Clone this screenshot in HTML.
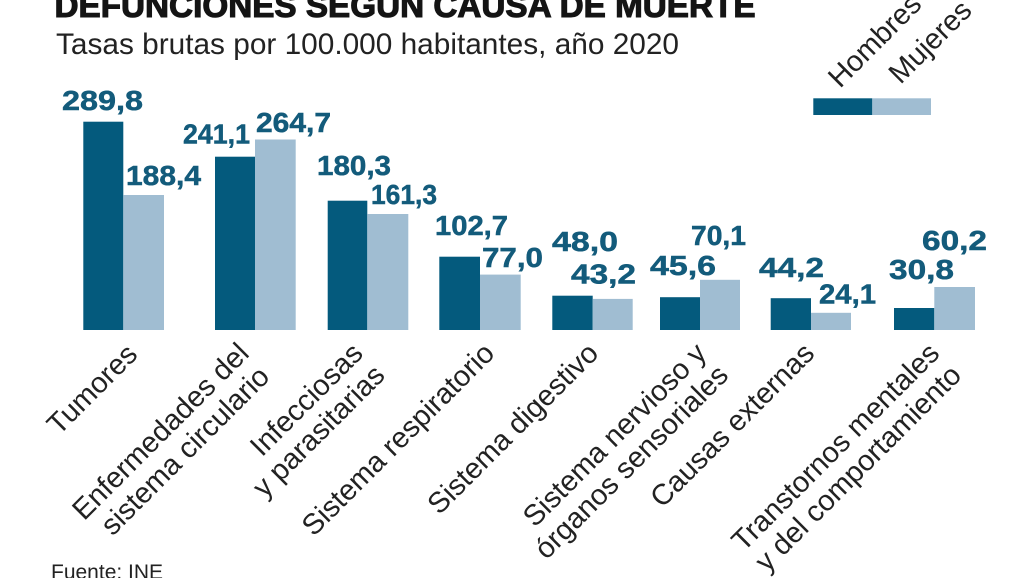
<!DOCTYPE html>
<html>
<head>
<meta charset="utf-8">
<style>
  html, body { margin:0; padding:0; background:#fff; }
  body { width:1028px; height:578px; overflow:hidden; }
  svg { display:block; }
  text { font-family: "Liberation Sans", Arial, sans-serif; }
  .val { font-weight:bold; font-size:27.5px; fill:#135b7b; stroke:#135b7b; stroke-width:0.5; }
  .ax { font-size:29px; fill:#222; }
</style>
</head>
<body>
<svg width="1028" height="578" viewBox="0 0 1028 578" xmlns="http://www.w3.org/2000/svg">
  <rect x="0" y="0" width="1028" height="578" fill="#ffffff"/>

  <!-- Title -->
  <text x="54.5" y="17" font-size="33" font-weight="bold" fill="#141414" stroke="#141414" stroke-width="1.1" textLength="701" lengthAdjust="spacingAndGlyphs">DEFUNCIONES SEGÚN CAUSA DE MUERTE</text>
  <!-- Subtitle -->
  <text x="56" y="54" font-size="29.5" fill="#222" textLength="623" lengthAdjust="spacingAndGlyphs">Tasas brutas por 100.000 habitantes, año 2020</text>

  <!-- Legend -->
  <rect x="813.3" y="98.3" width="59" height="16.7" fill="#045a7d"/>
  <rect x="872.3" y="98.3" width="58.7" height="16.7" fill="#a0bdd2"/>
  <text class="ax" transform="translate(840,89) rotate(-45)">Hombres</text>
  <text class="ax" transform="translate(900.5,85) rotate(-45)">Mujeres</text>

  <!-- Bars: dark = Hombres, light = Mujeres -->
  <g fill="#045a7d">
    <rect x="83.3" y="121.7" width="40" height="208.3"/>
    <rect x="215" y="156.7" width="40" height="173.3"/>
    <rect x="327.7" y="200.7" width="39.6" height="129.3"/>
    <rect x="439.3" y="256.7" width="40.7" height="73.3"/>
    <rect x="552.3" y="295.7" width="40.4" height="34.3"/>
    <rect x="660" y="297.2" width="40" height="32.8"/>
    <rect x="770.7" y="298.2" width="40.3" height="31.8"/>
    <rect x="894" y="308" width="40.3" height="22"/>
  </g>
  <g fill="#a0bdd2">
    <rect x="123.3" y="195" width="40.7" height="135"/>
    <rect x="255" y="139.5" width="40.7" height="190.5"/>
    <rect x="367.3" y="214" width="41" height="116"/>
    <rect x="480" y="274.6" width="40.7" height="55.4"/>
    <rect x="592.7" y="298.9" width="40" height="31.1"/>
    <rect x="700" y="279.8" width="40" height="50.2"/>
    <rect x="811" y="312.8" width="40" height="17.2"/>
    <rect x="934.3" y="287" width="40.7" height="43"/>
  </g>

  <!-- Value labels -->
  <text class="val" x="62" y="110" textLength="81" lengthAdjust="spacingAndGlyphs">289,8</text>
  <text class="val" x="126" y="185" textLength="75" lengthAdjust="spacingAndGlyphs">188,4</text>
  <text class="val" x="183" y="143.5" textLength="67" lengthAdjust="spacingAndGlyphs">241,1</text>
  <text class="val" x="256" y="132" textLength="75" lengthAdjust="spacingAndGlyphs">264,7</text>
  <text class="val" x="317" y="175" textLength="74" lengthAdjust="spacingAndGlyphs">180,3</text>
  <text class="val" x="371" y="204" textLength="66" lengthAdjust="spacingAndGlyphs">161,3</text>
  <text class="val" x="435" y="235" textLength="73" lengthAdjust="spacingAndGlyphs">102,7</text>
  <text class="val" x="482" y="267" textLength="61" lengthAdjust="spacingAndGlyphs">77,0</text>
  <text class="val" x="552" y="251" textLength="66" lengthAdjust="spacingAndGlyphs">48,0</text>
  <text class="val" x="571" y="283.5" textLength="65" lengthAdjust="spacingAndGlyphs">43,2</text>
  <text class="val" x="650" y="275" textLength="66" lengthAdjust="spacingAndGlyphs">45,6</text>
  <text class="val" x="691" y="245" textLength="55" lengthAdjust="spacingAndGlyphs">70,1</text>
  <text class="val" x="759" y="277" textLength="65" lengthAdjust="spacingAndGlyphs">44,2</text>
  <text class="val" x="819" y="303.5" textLength="57" lengthAdjust="spacingAndGlyphs">24,1</text>
  <text class="val" x="889" y="279" textLength="65" lengthAdjust="spacingAndGlyphs">30,8</text>
  <text class="val" x="922" y="250" textLength="65" lengthAdjust="spacingAndGlyphs">60,2</text>

  <!-- Category labels (rotated) -->
  <text class="ax" text-anchor="end" transform="translate(139,356) rotate(-45)">Tumores</text>
  <text class="ax" text-anchor="end" transform="translate(250.5,355) rotate(-45)"><tspan x="0" y="0">Enfermedades del</tspan><tspan x="-2" y="31">sistema circulario</tspan></text>
  <text class="ax" text-anchor="end" transform="translate(364.5,355) rotate(-45)"><tspan x="0" y="0">Infecciosas</tspan><tspan x="0" y="31">y parasitarias</tspan></text>
  <text class="ax" text-anchor="end" transform="translate(496,355) rotate(-45)">Sistema respiratorio</text>
  <text class="ax" text-anchor="end" transform="translate(600,355) rotate(-45)">Sistema digestivo</text>
  <text class="ax" text-anchor="end" transform="translate(708,355) rotate(-45)"><tspan x="0" y="0">Sistema nervioso y</tspan><tspan x="0" y="31">órganos sensoriales</tspan></text>
  <text class="ax" text-anchor="end" transform="translate(816,355) rotate(-45)">Causas externas</text>
  <text class="ax" text-anchor="end" transform="translate(941,355) rotate(-45)"><tspan x="0" y="0">Transtornos mentales</tspan><tspan x="0" y="31">y del comportamiento</tspan></text>

  <!-- Source -->
  <text x="51" y="579" font-size="21" fill="#222">Fuente: INE</text>
</svg>
</body>
</html>
